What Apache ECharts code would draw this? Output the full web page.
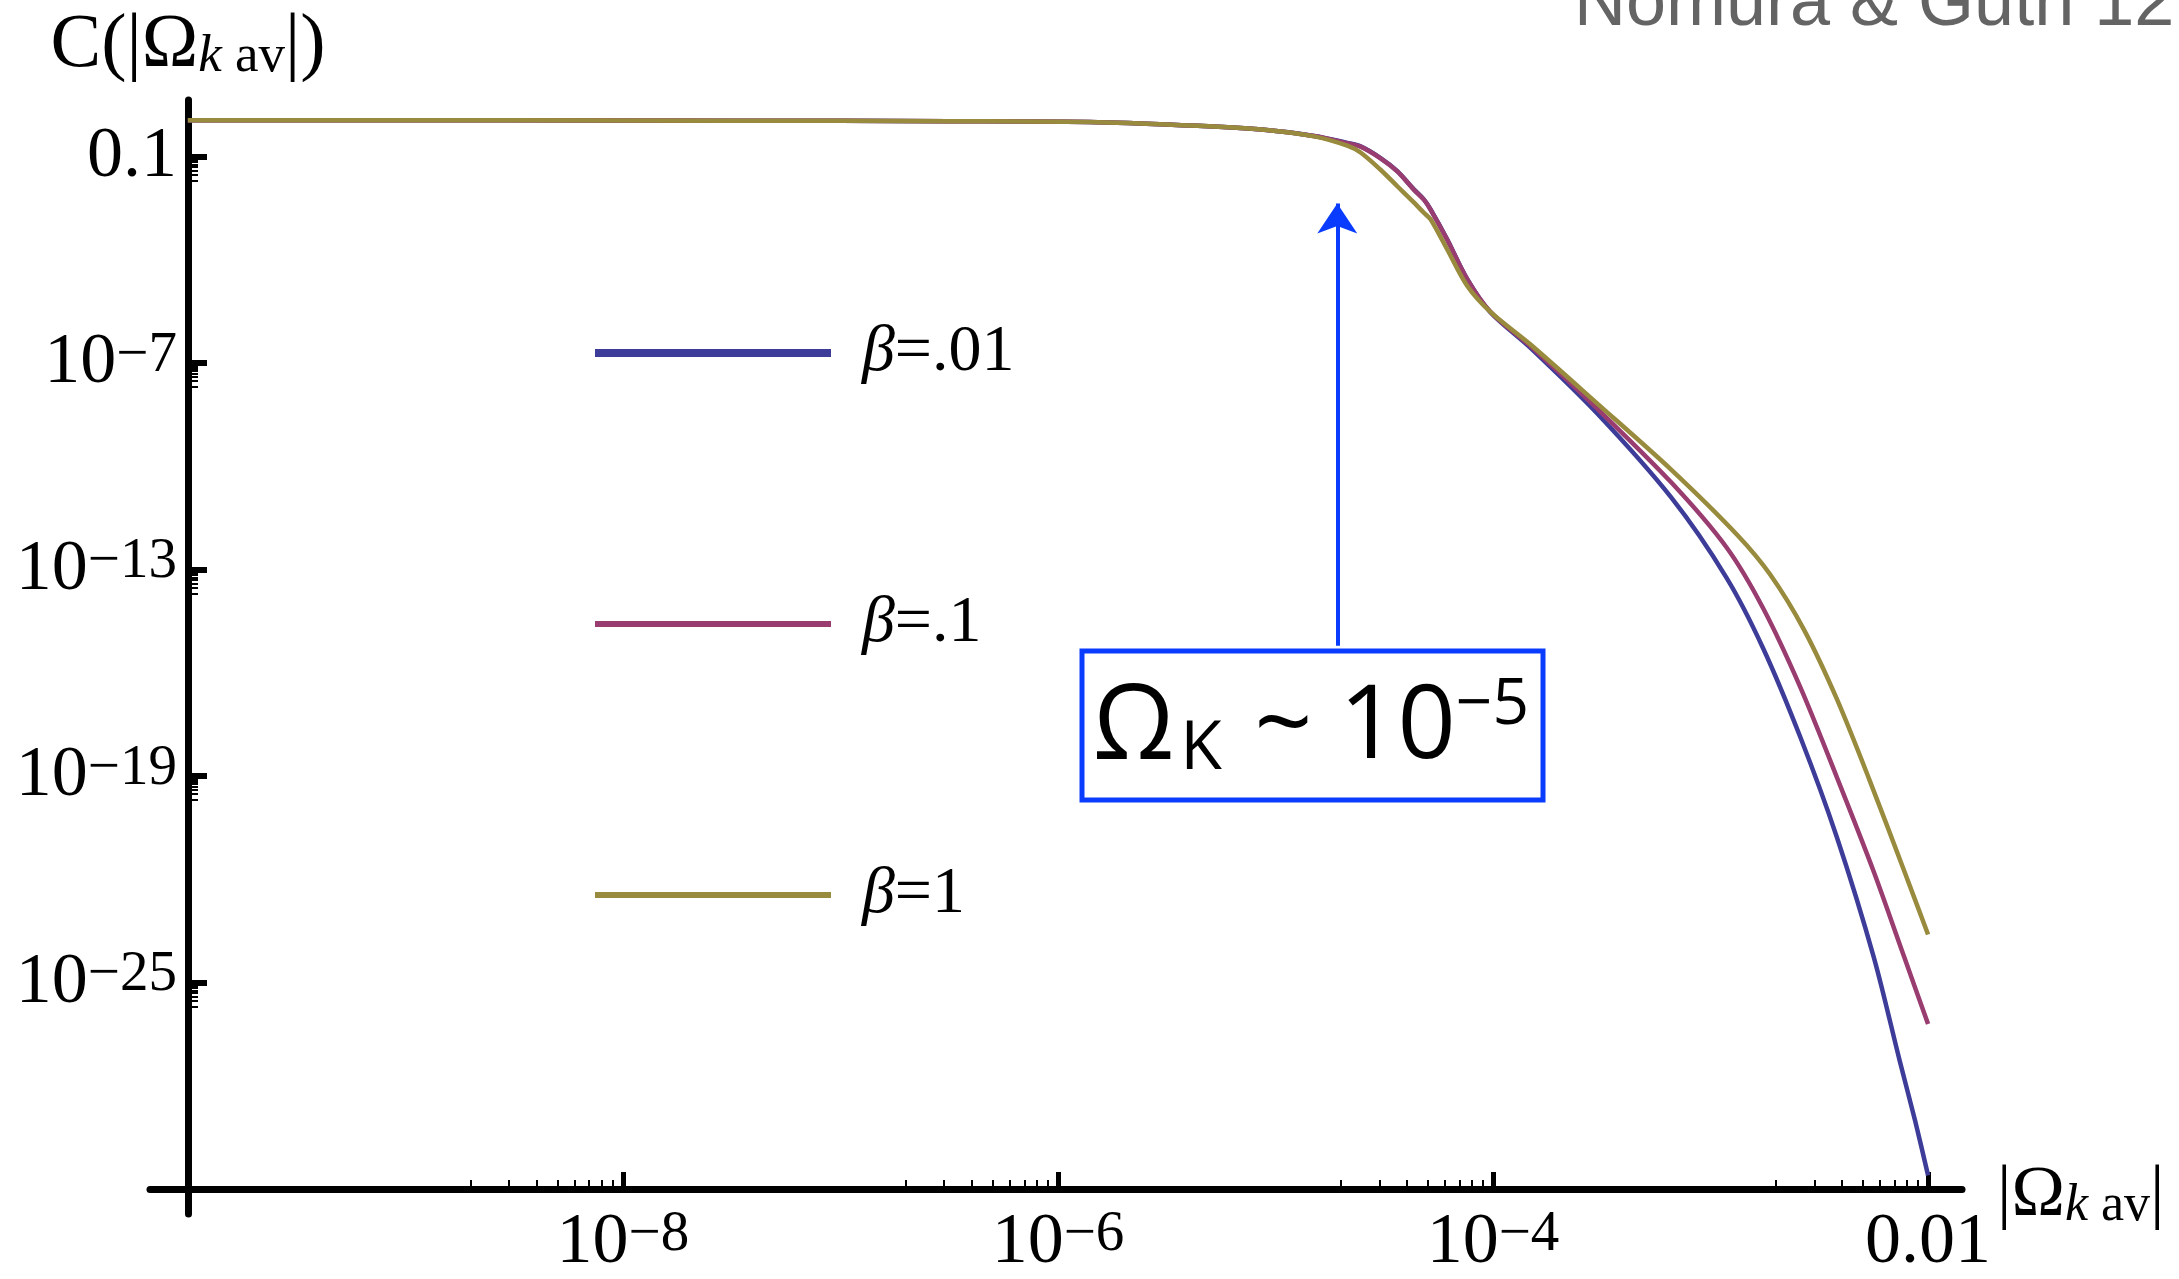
<!DOCTYPE html>
<html>
<head>
<meta charset="utf-8">
<script src="https://cdn.jsdelivr.net/npm/echarts@6/dist/echarts.min.js"></script>
<style>
  html, body { margin: 0; padding: 0; background: #ffffff; }
  #chart { width: 2179px; height: 1279px; }
</style>
</head>
<body>
<div id="chart"></div>
<script>
// Probability C(|Ω_k av|) against |Ω_k av| for three values of β.
// Values are stored as base-10 exponents of |Ω_k av| and of C.
const seriesNames = ['β=.01', 'β=.1', 'β=1'];
const seriesColors = ['#3d3d99', '#993d71', '#998b3d'];

const logOmegaB001 = [-10, -9, -8, -7, -6.5, -5.817, -5.358, -5.052, -4.823, -4.670, -4.609, -4.517, -4.440, -4.364, -4.318, -4.287, -4.211, -4.119, -4.012, -3.829, -3.523, -3.18, -2.927, -2.76, -2.587, -2.42, -2.25, -2.13, -2.06, -2.0];
const logCB001     = [0.06, 0.06, 0.05, 0.04, 0.03, 0.0, -0.105, -0.22, -0.40, -0.60, -0.70, -1.04, -1.42, -1.95, -2.24, -2.53, -3.40, -4.55, -5.52, -6.55, -8.45, -10.91, -13.23, -15.26, -17.87, -20.76, -24.25, -27.28, -29.0, -30.6];

const logOmegaB01 = [-10, -9, -8, -7, -6.5, -5.817, -5.358, -5.052, -4.823, -4.670, -4.609, -4.517, -4.440, -4.364, -4.318, -4.287, -4.211, -4.119, -4.012, -3.829, -3.523, -3.18, -2.927, -2.76, -2.587, -2.42, -2.25, -2.11, -2.0];
const logCB01     = [0.06, 0.06, 0.05, 0.04, 0.03, 0.0, -0.105, -0.22, -0.40, -0.61, -0.71, -1.05, -1.43, -1.96, -2.25, -2.54, -3.41, -4.56, -5.51, -6.50, -8.31, -10.47, -12.35, -14.1, -16.42, -19.02, -21.77, -24.25, -26.2];

const logOmegaB1 = [-10, -9, -8, -7, -6.5, -5.817, -5.358, -5.052, -4.823, -4.670, -4.609, -4.517, -4.440, -4.364, -4.318, -4.287, -4.211, -4.119, -4.012, -3.829, -3.523, -3.18, -2.876, -2.725, -2.57, -2.42, -2.27, -2.11, -2.0];
const logCB1     = [0.06, 0.06, 0.05, 0.04, 0.03, 0.0, -0.105, -0.22, -0.41, -0.68, -0.88, -1.38, -1.86, -2.33, -2.63, -2.82, -3.69, -4.75, -5.51, -6.45, -8.16, -10.1, -12.0, -13.15, -14.75, -16.75, -19.1, -21.75, -23.6];

// Axis ticks (exponents) and their printed labels: [base, superscript]
const xTickExps = [-8, -6, -4, -2];
const xTickText = [['10', '−8'], ['10', '−6'], ['10', '−4'], ['0.01', '']];
const yTickExps = [-25, -19, -13, -7, -1];
const yTickText = [['10', '−25'], ['10', '−19'], ['10', '−13'], ['10', '−7'], ['0.1', '']];

// Plot range (exponents)
const xRange = [-10.174, -1.844];
const yRange = [-31.722, 0.646];

// Annotation arrow: position in |Ω_k av| and its C span (exponents)
const arrowLogOmega = -4.716;
const arrowLogC = [-15.21, -2.36];

const pow10 = v => Math.pow(10, v);
const toPairs = (lx, ly) => lx.map((v, i) => [pow10(v), pow10(ly[i])]);

const minorOf = exps => {
  const out = [];
  exps.forEach(m => { for (let k = 2; k <= 9; k++) out.push(k * pow10(m - 1)); });
  return out;
};

const serif = "'Liberation Serif', 'Times New Roman', serif";
const sans = "'Open Sans', 'Noto Sans', sans-serif";

const tickRich = {
  b: { fontFamily: serif, fontSize: 72, lineHeight: 72, verticalAlign: 'middle', color: '#000' },
  e: { fontFamily: serif, fontSize: 57, lineHeight: 30, verticalAlign: 'top', color: '#000' }
};

function tickFormatter(exps, texts) {
  return function (value) {
    const e = Math.round(Math.log10(value));
    const i = exps.indexOf(e);
    if (i < 0) return '';
    const t = texts[i];
    return t[1] ? '{b|' + t[0] + '}{e|' + t[1] + '}' : '{b|' + t[0] + '}';
  };
}

function nameRich(mainAlign, size, subSize, subLine) {
  return {
    m: { fontFamily: serif, fontSize: size, lineHeight: size, verticalAlign: mainAlign, color: '#000' },
    i: { fontFamily: serif, fontSize: subSize, fontStyle: 'italic', lineHeight: subLine, verticalAlign: 'bottom', color: '#000' },
    s: { fontFamily: serif, fontSize: subSize, lineHeight: subLine, verticalAlign: 'bottom', color: '#000' }
  };
}

const legendRich = {
  g: { width: 26 },
  i: { fontFamily: serif, fontSize: 66, fontStyle: 'italic', lineHeight: 66, color: '#000' },
  r: { fontFamily: serif, fontSize: 66, lineHeight: 66, color: '#000' }
};

const legendY = [353, 624, 895];
const legendThickness = [8, 6, 6];

const legends = seriesNames.map((name, i) => ({
  data: [name],
  left: 595,
  top: legendY[i] - 33,
  padding: 0,
  orient: 'vertical',
  icon: 'rect',
  itemWidth: 236,
  itemHeight: legendThickness[i],
  selectedMode: false,
  formatter: n => '{g|}{i|β}{r|' + n.slice(1) + '}',
  textStyle: { rich: legendRich }
}));

const axisBlack = { color: '#000', width: 7 };

const option = {
  animation: false,
  backgroundColor: '#ffffff',
  color: seriesColors,
  grid: { left: 150, right: 217, top: 100, bottom: 59, containLabel: false },
  legend: legends,
  xAxis: [
    {
      type: 'log', logBase: 10, position: 'bottom', offset: -25,
      min: pow10(xRange[0]), max: pow10(xRange[1]),
      name: '{m||Ω}{i|k}{s| av}{m||}',
      nameLocation: 'end', nameGap: 30,
      nameTextStyle: { align: 'left', verticalAlign: 'middle', padding: [14, 0, 0, 0], rich: nameRich('middle', 72, 52, 39) },
      axisLine: { show: true, lineStyle: axisBlack },
      axisTick: { show: true, inside: true, length: 17, lineStyle: { color: '#000', width: 5 }, customValues: xTickExps.map(pow10) },
      axisLabel: { show: true, margin: 18, customValues: xTickExps.map(pow10), formatter: tickFormatter(xTickExps, xTickText), rich: tickRich },
      splitLine: { show: false }, minorTick: { show: false }
    },
    {
      type: 'log', logBase: 10, position: 'bottom', offset: -25,
      min: pow10(xRange[0]), max: pow10(xRange[1]),
      axisLine: { show: false },
      axisTick: { show: true, inside: true, length: 9, lineStyle: { color: '#000', width: 2 }, customValues: minorOf(xTickExps) },
      axisLabel: { show: false },
      splitLine: { show: false }
    }
  ],
  yAxis: [
    {
      type: 'log', logBase: 10, position: 'left', offset: -38,
      min: pow10(yRange[0]), max: pow10(yRange[1]),
      name: '{m|C(|Ω}{i|k}{s| av}{m||)}',
      nameLocation: 'end', nameGap: 16,
      nameTextStyle: { align: 'center', verticalAlign: 'bottom', rich: nameRich('top', 76, 53, 40) },
      axisLine: { show: true, lineStyle: axisBlack },
      axisTick: { show: true, inside: true, length: 19, lineStyle: { color: '#000', width: 6 }, customValues: yTickExps.map(pow10) },
      axisLabel: { show: true, margin: 11, customValues: yTickExps.map(pow10), formatter: tickFormatter(yTickExps, yTickText), rich: tickRich },
      splitLine: { show: false }, minorTick: { show: false }
    },
    {
      type: 'log', logBase: 10, position: 'left', offset: -38,
      min: pow10(yRange[0]), max: pow10(yRange[1]),
      axisLine: { show: false },
      axisTick: { show: true, inside: true, length: 10, lineStyle: { color: '#000', width: 2 }, customValues: minorOf(yTickExps) },
      axisLabel: { show: false },
      splitLine: { show: false }
    }
  ],
  series: [
    { name: seriesNames[0], data: toPairs(logOmegaB001, logCB001) },
    { name: seriesNames[1], data: toPairs(logOmegaB01, logCB01) },
    { name: seriesNames[2], data: toPairs(logOmegaB1, logCB1) }
  ].map((s, i) => Object.assign(s, {
    type: 'line',
    xAxisIndex: 0,
    yAxisIndex: 0,
    showSymbol: false,
    smooth: 0.3,
    itemStyle: { color: seriesColors[i] },
    lineStyle: { color: seriesColors[i], width: 4.5 },
    emphasis: { disabled: true }
  })),
  graphic: [
    {
      type: 'rect',
      shape: { x: 1082, y: 651, width: 461, height: 149 },
      style: { fill: '#ffffff', stroke: '#0a3cff', lineWidth: 5 },
      z: 10
    },
    {
      type: 'text',
      x: 1093, y: 729,
      style: {
        text: '{o|Ω}{k|K}{t| ~ }{u|10}{s|−5}',
        align: 'left',
        verticalAlign: 'middle',
        rich: {
          o: { fontFamily: sans, fontSize: 104, lineHeight: 110, verticalAlign: 'middle', fill: '#000' },
          k: { fontFamily: sans, fontSize: 68, lineHeight: 66, verticalAlign: 'bottom', padding: [0, 0, 0, 6], fill: '#000' },
          t: { fontFamily: sans, fontSize: 102, lineHeight: 110, verticalAlign: 'middle', padding: [0, 0, 0, 6], fill: '#000' },
          u: { fontFamily: sans, fontSize: 102, lineHeight: 110, verticalAlign: 'middle', fill: '#000' },
          s: { fontFamily: sans, fontSize: 64, lineHeight: 84, verticalAlign: 'top', fill: '#000' }
        }
      },
      z: 11
    },
    {
      type: 'text',
      x: 1574, y: 5,
      style: {
        text: 'Nomura & Guth 12',
        font: "72px 'Liberation Sans', Arial, sans-serif",
        fill: '#646464',
        align: 'left',
        verticalAlign: 'middle'
      },
      z: 11
    }
  ]
};

// Arrow pointing at the knee of the curves
option.series[0].markLine = {
  silent: true,
  symbol: ['none', 'arrow'],
  symbolSize: [30, 30],
  label: { show: false },
  lineStyle: { color: '#0a3cff', width: 4, type: 'solid' },
  data: [[
    { coord: [pow10(arrowLogOmega), pow10(arrowLogC[0])] },
    { coord: [pow10(arrowLogOmega), pow10(arrowLogC[1])] }
  ]]
};

const chart = echarts.init(document.getElementById('chart'), null, { renderer: 'canvas' });
chart.setOption(option);
</script>
</body>
</html>
